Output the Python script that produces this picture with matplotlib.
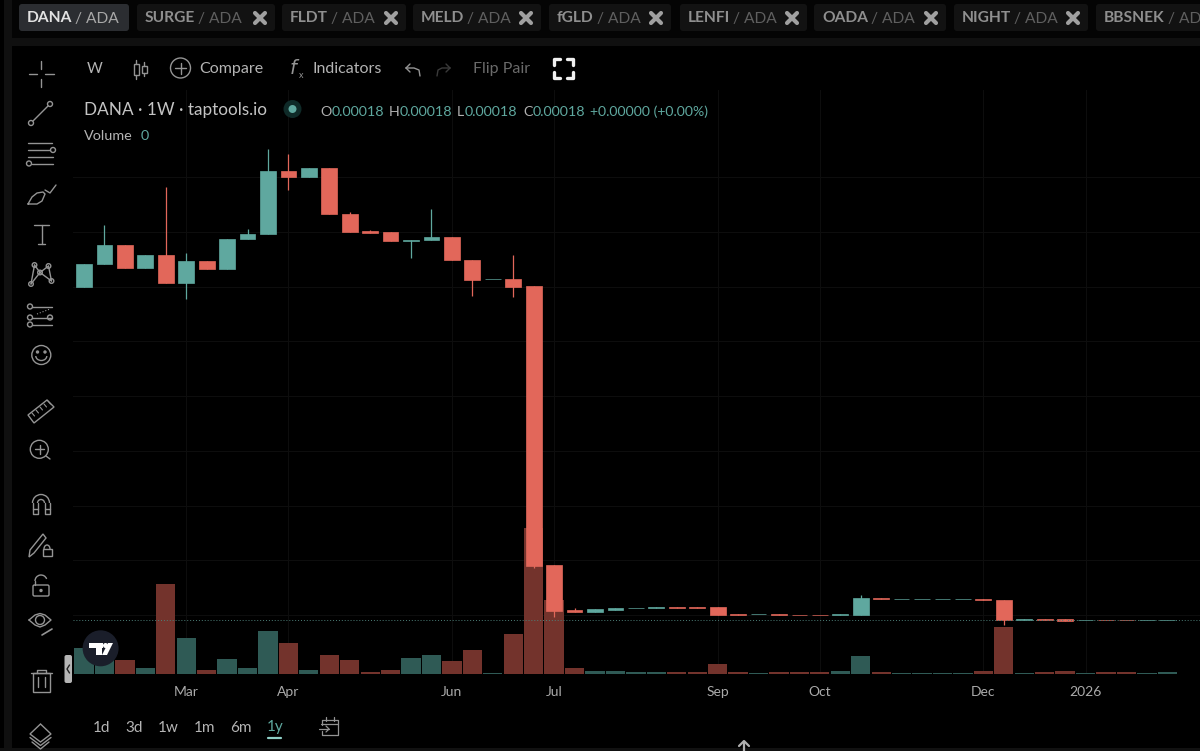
import pandas as pd
import matplotlib
matplotlib.use("Agg")
import matplotlib.pyplot as plt
import matplotlib.dates as mdates
from matplotlib.patches import Circle, FancyBboxPatch, Rectangle, Polygon, Arc

plt.rcParams['font.family'] = ['Lato', 'DejaVu Sans']

# weekly candles, prices in units of 1e-4 ADA
opens = [13.98, 14.82, 15.52, 14.69, 15.16, 14.14, 14.92, 14.63, 15.72, 15.91, 18.23, 18.00, 18.34, 16.66,
         16.04, 15.98, 15.67, 15.70, 15.80, 14.97, 14.26, 14.26, 14.03, 3.83, 2.18, 2.12, 2.19, 2.27,
         2.27, 2.28, 2.28, 2.28, 2.03, 2.02, 2.03, 2.00, 2.00, 2.00, 2.01, 2.62, 2.60, 2.60, 2.60, 2.60,
         2.58, 2.55, 1.82, 1.84, 1.84, 1.81, 1.81, 1.81, 1.80, 1.80]
highs = [14.83, 16.25, 15.52, 15.16, 17.65, 15.21, 14.92, 15.74, 16.10, 19.02, 18.85, 18.34, 18.34, 16.72,
         16.06, 15.98, 15.70, 16.82, 15.80, 14.97, 14.26, 15.14, 14.03, 3.83, 2.24, 2.22, 2.27, 2.27,
         2.28, 2.28, 2.28, 2.28, 2.03, 2.02, 2.03, 2.00, 2.00, 2.03, 2.73, 2.62, 2.60, 2.60, 2.60, 2.60,
         2.58, 2.55, 1.84, 1.84, 1.84, 1.81, 1.81, 1.81, 1.80, 1.80]
lows = [13.98, 14.82, 14.69, 14.69, 14.14, 13.53, 14.63, 14.63, 15.72, 15.91, 17.51, 18.00, 16.65, 16.00,
        15.97, 15.66, 15.03, 15.70, 14.96, 13.65, 14.26, 13.62, 3.70, 1.94, 2.12, 2.12, 2.19, 2.27,
        2.27, 2.27, 2.27, 2.01, 2.01, 2.02, 1.99, 1.99, 1.99, 2.00, 2.01, 2.60, 2.60, 2.60, 2.60, 2.60,
        2.54, 1.63, 1.82, 1.81, 1.79, 1.81, 1.80, 1.80, 1.80, 1.80]
closes = [14.83, 15.52, 14.69, 15.16, 14.14, 14.92, 14.63, 15.74, 15.93, 18.23, 18.00, 18.34, 16.65, 16.00,
          15.97, 15.66, 15.70, 15.80, 14.96, 14.25, 14.26, 13.99, 3.80, 2.15, 2.12, 2.22, 2.27, 2.27,
          2.28, 2.27, 2.27, 2.01, 2.01, 2.02, 1.99, 1.99, 1.99, 2.03, 2.63, 2.60, 2.60, 2.60, 2.60, 2.60,
          2.54, 1.81, 1.84, 1.81, 1.79, 1.81, 1.80, 1.80, 1.80, 1.80]
volumes = [25.4, 22, 13.7, 5.4, 89.4, 36, 3.7, 14.7, 5.4, 42.7, 30.7, 3.7, 18.7, 13.7, 1.7, 3.7, 15.7, 18.7,
           12.7, 24, 0.7, 39.4, 145.4, 73.7, 5.4, 3, 3, 1.4, 1.4, 1.4, 1.4, 9.7, 1.4, 0.4, 1.4, 1.4, 1.4, 2.4,
           18, 1.4, 0.7, 0.7, 0.7, 0.7, 3, 46.4, 0.7, 1.4, 2.4, 0.7, 1.4, 1.4, 0.7, 1.4]
last_price = 1.80

tick_dates = ['2025-03-03', '2025-04-07', '2025-06-02', '2025-07-07', '2025-09-01', '2025-10-06',
              '2025-12-01', '2026-01-05']
tick_labels = ['Mar', 'Apr', 'Jun', 'Jul', 'Sep', 'Oct', 'Dec', '2026']
price_grid = [2, 4, 6, 8, 10, 12, 14, 16, 18]

tabs = [('DANA', 19, 129), ('SURGE', 137, 275), ('FLDT', 282, 406), ('MELD', 413, 541), ('fGLD', 549, 671),
        ('LENFI', 680, 807), ('OADA', 814, 946), ('NIGHT', 954, 1088), ('BBSNEK', 1096, 1230)]
ohlc = [('O', 320), ('H', 389), ('L', 457), ('C', 523.5)]
ranges = [('1d', 93), ('3d', 125), ('1w', 158), ('1m', 194), ('6m', 230), ('1y', 267)]

UP = '#5fa89f'
DOWN = '#e2675a'
UP_VOL = '#2f5a55'
DOWN_VOL = '#73332c'
GRID = '#0d0d0d'
ICON = '#949494'
TXT = '#b4b4b4'

W, H = 1200, 751
fig = plt.figure(figsize=(12, 7.51), dpi=100, facecolor='#000000')

# chart pane, pixel box 73..1200 / 90..673.7
L, R, T, B = 73, 1200, 90, 673.7
rect = [L / W, 1 - B / H, (R - L) / W, (B - T) / H]

dates = pd.date_range('2025-01-27', periods=len(opens), freq='W-MON')
days = mdates.date2num(dates)
week_px = 20.44
x0 = days[0] - (84 - L) / week_px * 7
x1 = days[0] + (R - 84) / week_px * 7
px_price = 0.03653
y0 = 2 + (615 - B) * px_price
y1 = 2 + (615 - T) * px_price

ax = fig.add_axes(rect, facecolor='#000000')
ax.set_xlim(x0, x1)
ax.set_ylim(y0, y1)
ax.set_xticks(mdates.date2num(pd.to_datetime(tick_dates)))
ax.set_xticklabels(tick_labels, color='#aaaaaa', fontsize=10)
ax.set_yticks(price_grid)
ax.tick_params(axis='x', length=0, pad=9)
ax.tick_params(axis='y', length=0, labelleft=False)
ax.grid(True, color=GRID, lw=0.8)
ax.set_axisbelow(True)
for s in ax.spines.values():
    s.set_visible(False)

ax_vol = ax.twinx()
ax_vol.set_ylim(0, B - T)
ax_vol.axis('off')
is_up = [c >= o for o, c in zip(opens, closes)]
ax_vol.bar(days, volumes, width=6.6, color=[UP_VOL if u else DOWN_VOL for u in is_up], linewidth=0)

ax_p = ax.twinx()
ax_p.set_ylim(y0, y1)
ax_p.axis('off')
colors = [UP if u else DOWN for u in is_up]
ax_p.axhline(last_price, color='#4d7f78', lw=0.7, ls=(0, (1, 2)))
ax_p.vlines(days, lows, highs, color=colors, lw=0.9)
ax_p.bar(days, [c - o for o, c in zip(opens, closes)], bottom=opens, width=5.4, color=colors,
         edgecolor=colors, linewidth=0.5)

# everything around the chart is drawn in pixel coordinates
ui = fig.add_axes([0, 0, 1, 1], facecolor='none')
ui.set_xlim(0, W)
ui.set_ylim(H, 0)
ui.axis('off')


def txt(x, y, s, size=11.5, color=TXT, weight='normal', ha='left'):
    ui.text(x, y + 1, s, fontsize=size, color=color, fontweight=weight, ha=ha, va='center')


def ln(xs, ys, color=ICON, lw=1.0):
    ui.plot(xs, ys, color=color, lw=lw, solid_capstyle='round')


def circ(x, y, r, color=ICON, lw=1.0, fc='none'):
    ui.add_patch(Circle((x, y), r, ec=color, fc=fc, lw=lw))


def box(x0, y0, x1, y1, fc, r=3):
    ui.add_patch(FancyBboxPatch((x0 + r, y0 + r), x1 - x0 - 2 * r, y1 - y0 - 2 * r,
                                boxstyle='round,pad=%g,rounding_size=%g' % (r, r), fc=fc, ec='none'))


# frame bands
ui.add_patch(Rectangle((4, 38), W, 8, fc='#101010', ec='none'))
ui.add_patch(Rectangle((4, 0), 8, H, fc='#101010', ec='none'))
ui.add_patch(Rectangle((0, 748), W, 3, fc='#111111', ec='none'))
ui.add_patch(Rectangle((12, 0), W, 38, fc='#040404', ec='none'))

# pair tabs
for i, (name, a, b) in enumerate(tabs):
    box(a, 4, b, 31, '#2b2d31' if i == 0 else '#121212')
    c1 = '#e2e2e2' if i == 0 else '#8f8f8f'
    c2 = '#a8a8a8' if i == 0 else '#5f5f5f'
    t = ui.text(a + 8, 18.5, name, fontsize=11.2, color=c1, fontweight='bold', va='center')
    bb = t.get_window_extent(fig.canvas.get_renderer())
    ui.text(bb.x1 + 3, 18.5, '/ ADA', fontsize=11.2, color=c2, va='center')
    if i > 0 and b < W:
        cx = b - 15
        ln([cx - 5, cx + 5], [13, 23], '#a0a0a0', 3)
        ln([cx - 5, cx + 5], [23, 13], '#a0a0a0', 3)

# top toolbar
txt(95, 68, 'W', ha='center', size=11)
ln([136, 136], [60, 64]); ln([136, 136], [75, 79])
ui.add_patch(Rectangle((133.5, 64), 5, 11, fc='none', ec=ICON, lw=1))
ln([144, 144], [62, 66]); ln([144, 144], [73, 76])
ui.add_patch(Rectangle((141.5, 66), 5, 7, fc='none', ec=ICON, lw=1))
circ(180.5, 68, 10)
ln([175, 186], [68, 68]); ln([180.5, 180.5], [62.5, 73.5])
txt(199, 68, 'Compare')
ui.text(295, 67, r'$f$', fontsize=14, color=ICON, ha='center', va='center')
ui.text(301, 75, 'x', fontsize=6.5, color=ICON, ha='center', va='center')
txt(313, 68, 'Indicators')
ln([406, 410], [68, 64]); ln([406, 410], [68, 72]); ln([406, 414, 419, 420], [68, 68, 70, 76])
ln([450, 446], [68, 64], '#3a3a3a'); ln([450, 446], [68, 72], '#3a3a3a')
ln([450, 442, 438, 437], [68, 68, 70, 76], '#3a3a3a')
txt(473, 68, 'Flip Pair', color='#6a6a6a')
for sx, sy in [(553.5, 58.5), (572.5, 58.5), (553.5, 77.5), (572.5, 77.5)]:
    dx = 6 if sx < 560 else -6
    dy = 6 if sy < 68 else -6
    ln([sx + dx, sx, sx], [sy, sy, sy + dy], '#f0f0f0', 2.4)

# legend
txt(84, 109.5, 'DANA · 1W · taptools.io', size=12.3, color='#c4c4c4')
circ(292.5, 109, 9, color='none', fc='#0f2a28')
circ(292.5, 109, 4, color='none', fc=UP)
for label, x in ohlc:
    t = ui.text(x, 112, label, fontsize=10.3, color='#b0b0b0', va='center')
    bb = t.get_window_extent(fig.canvas.get_renderer())
    ui.text(bb.x1, 112, '0.00018', fontsize=10.3, color=UP, va='center')
txt(590, 111, '+0.00000 (+0.00%)', size=10.1, color=UP)
txt(84, 135, 'Volume', size=10.4)
txt(141, 135, '0', size=10.4, color=UP)

# drawing tools column
ln([41, 41], [61, 69]); ln([41, 41], [79, 87]); ln([29, 37], [74, 74]); ln([45, 54], [74, 74])
circ(31, 123, 2.5); circ(50, 104, 2.5); ln([33, 48], [121, 106])
ln([28, 52], [143, 143]); ln([28, 50], [150, 150]); ln([28, 53], [157, 157]); ln([32, 53], [163.5, 163.5])
circ(53, 150, 2.5); circ(29, 163.5, 2.5)
ln([28, 32, 37, 43, 45, 42, 37, 28], [204, 197, 193, 192, 194, 201, 204, 204])
ln([45, 50, 56], [190, 193, 185])
ln([34, 49], [225, 225]); ln([41.5, 41.5], [225, 244]); ln([38, 45], [244, 244])
pts = [(34.5, 265), (48.5, 266), (40, 272.5), (51.5, 281), (31, 284)]
for a, b in [(0, 2), (1, 2), (2, 3), (2, 4), (0, 4), (1, 3)]:
    ln([pts[a][0], pts[b][0]], [pts[a][1], pts[b][1]])
for p in pts:
    circ(p[0], p[1], 2.3, fc='#000000')
ln([32, 52], [306.5, 306.5]); ln([32, 52], [317.5, 317.5]); ln([32, 52], [324.5, 324.5])
ui.plot([37, 50], [314, 309], color=ICON, lw=0.8, ls=':')
circ(30, 306.5, 2.5, fc='#000000'); circ(30, 317.5, 2.5, fc='#000000')
circ(50, 317.5, 2.5, fc='#000000'); circ(30, 324.5, 2.5, fc='#000000')
circ(41.3, 355, 9.5)
circ(37.5, 352, 1, fc=ICON); circ(45, 352, 1, fc=ICON)
ui.add_patch(Arc((41.3, 356), 11, 9, theta1=0, theta2=180, ec=ICON, lw=1))

# ruler
ui.add_patch(Polygon([(28, 415), (47, 400), (54, 407), (34, 423)], closed=True, fc='none', ec=ICON, lw=1))
for k in range(5):
    ln([32 + 4 * k, 34.5 + 4 * k], [413 - 3 * k, 416 - 3 * k], lw=0.8)
circ(39.3, 449.3, 9)
ln([35, 44], [449, 449]); ln([39.5, 39.5], [445, 454]); ln([46, 50], [456, 459])
# magnet
ui.add_patch(Arc((41, 503), 17, 17, theta1=180, theta2=360, ec=ICON, lw=1))
ui.add_patch(Arc((41, 503), 7, 7, theta1=180, theta2=360, ec=ICON, lw=1))
ln([32.5, 32.5, 37.5, 37.5], [503, 514, 514, 503]); ln([44.5, 44.5, 49.5, 49.5], [503, 514, 514, 503])
ln([32.5, 37.5], [509, 509]); ln([44.5, 49.5], [509, 509])
# pencil with small lock
ui.add_patch(Polygon([(29, 557), (30, 550), (43, 534), (46, 538), (34, 553)], closed=True, fc='none', ec=ICON, lw=1))
ui.add_patch(Rectangle((42.5, 549), 9, 7, fc='none', ec=ICON, lw=1))
ui.add_patch(Arc((47, 549), 6, 8, theta1=180, theta2=360, ec=ICON, lw=1))
# open lock
ui.add_patch(FancyBboxPatch((34, 586), 14, 9, boxstyle='round,pad=1,rounding_size=1.5', fc='none', ec=ICON, lw=1))
ui.add_patch(Arc((41, 581), 12, 12, theta1=180, theta2=340, ec=ICON, lw=1))
ln([35, 35], [581, 585]); circ(41, 590.5, 1, fc=ICON)
# eye
ln([29, 35, 40, 45, 51, 45, 40, 35, 29], [620, 615, 613.5, 615, 620, 625, 627, 625, 620])
circ(40, 620, 4.5)
ln([42, 47, 52], [635, 632, 629], lw=1.2)
# trash
ui.add_patch(Rectangle((33, 673), 17, 18.5, fc='none', ec=ICON, lw=1))
ln([31, 52], [673, 673]); ln([37, 37, 46, 46], [673, 670, 670, 673])
ln([38, 38], [677, 687]); ln([45, 45], [677, 687])
# layers
ui.add_patch(Polygon([(30, 734), (40.5, 724), (51, 734), (40.5, 742)], closed=True, fc='none', ec=ICON, lw=1))
ln([30, 40.5, 51], [737.5, 745.5, 737.5]); ln([32, 40.5, 49], [742, 749, 742])

# collapse handle
box(64.5, 655, 72, 683, '#b5b5b5', r=2)
ln([69.5, 67, 69.5], [665, 669, 673], '#222222', 1)

# TradingView badge
circ(100.6, 648.3, 18, color='none', fc='#1a1e2a')
ui.add_patch(Rectangle((89, 643), 14, 5, fc='#ffffff', ec='none'))
ui.add_patch(Rectangle((95.5, 643), 6, 12, fc='#ffffff', ec='none'))
circ(105.5, 645.5, 2.5, color='none', fc='#ffffff')
ui.add_patch(Polygon([(108, 643), (113, 643), (107, 655), (102, 655)], closed=True, fc='#ffffff', ec='none'))

# bottom range bar
for label, x in ranges:
    txt(x, 726.5, label, color=UP if label == '1y' else TXT, size=11)
ln([268, 281], [738, 738], '#8fd0c8', 1.6)
ln([322, 322], [725, 720], lw=0.9); ln([322, 338, 338, 322, 322], [720, 720, 735, 735, 731], lw=0.9)
ln([321, 338], [724, 724], lw=0.9); ln([326, 326], [717, 721], lw=0.9); ln([334, 334], [717, 721], lw=0.9)
ln([319, 329], [729, 729], lw=0.9); ln([326, 329, 326], [726, 729, 732], lw=0.9)
ln([744, 744], [742, 751], '#b0b0b0', 1.6); ln([739, 744, 749], [746, 741, 746], '#b0b0b0', 1.6)

fig.savefig('out.png', dpi=100, facecolor=fig.get_facecolor())
